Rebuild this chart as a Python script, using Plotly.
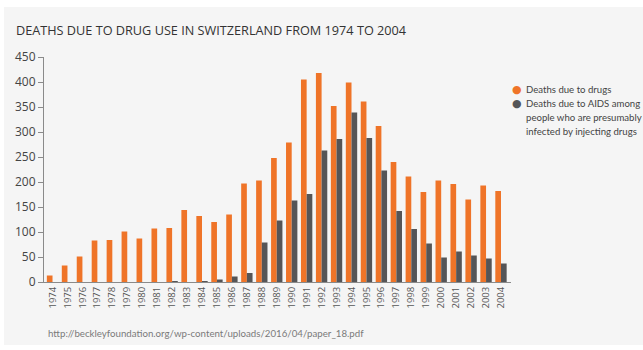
import plotly.graph_objects as go

# Yearly counts, Switzerland 1974-2004
years = [str(y) for y in range(1974, 2005)]
drug_deaths = [13, 33, 51, 83, 84, 101, 87, 107, 108, 144,
               132, 120, 135, 197, 203, 248, 279, 405, 418, 352,
               399, 361, 312, 240, 211, 180, 203, 196, 165, 193, 182]
aids_deaths = [0, 0, 0, 0, 0, 0, 0, 0, 2, 0,
               2, 5, 11, 18, 79, 123, 163, 176, 263, 286,
               339, 288, 223, 142, 106, 77, 49, 61, 53, 47, 37]
y_ticks = [0, 50, 100, 150, 200, 250, 300, 350, 400, 450]

ORANGE = "#EF7428"
GREY = "#555557"
BG = "#F5F5F5"
FONT = "Open Sans"
TEXT_FONT = "Lato"

W, H = 643, 350
L, R, T, B = 44, 132, 57, 68
PW, PH = W - L - R, H - T - B


def px(x):
    return (x - L) / PW


def py(y):
    return (H - B - y) / PH


fig = go.Figure()
fig.add_trace(go.Bar(x=years, y=drug_deaths, marker_color=ORANGE,
                     marker_line_width=0, name="Deaths due to drugs",
                     showlegend=False))
fig.add_trace(go.Bar(x=years, y=aids_deaths, marker_color=GREY,
                     marker_line_width=0, name="Deaths due to AIDS",
                     showlegend=False))

annotations = [
    dict(text="DEATHS DUE TO DRUG USE IN SWITZERLAND FROM 1974 TO 2004",
         x=px(14), y=py(30), xanchor="left", yanchor="middle",
         font=dict(family=FONT, size=12.7, color="#333333")),
    dict(text="http://beckleyfoundation.org/wp-content/uploads/2016/04/paper_18.pdf",
         x=px(46), y=py(333), xanchor="left", yanchor="middle",
         font=dict(family=TEXT_FONT, size=9.7, color="#7a7a7a")),
]

# Legend: coloured dots with text lines
legend_items = [
    (ORANGE, ["Deaths due to drugs"], 89),
    (GREY, ["Deaths due to AIDS among", "people who are presumably",
            "infected by injecting drugs"], 103),
]
for color, lines, y0 in legend_items:
    annotations.append(dict(text="●", x=px(517), y=py(y0), xanchor="center",
                            yanchor="middle",
                            font=dict(family="DejaVu Sans", size=11, color=color)))
    for i, line in enumerate(lines):
        annotations.append(dict(text=line, x=px(524), y=py(y0 + 14 * i),
                                xanchor="left", yanchor="middle",
                                font=dict(family=TEXT_FONT, size=9.6, color="#444444")))

for a in annotations:
    a.update(xref="paper", yref="paper", showarrow=False)

fig.update_layout(
    width=W, height=H,
    margin=dict(l=L, r=R, t=T, b=B, autoexpand=False),
    barmode="group", bargap=0.24, bargroupgap=0,
    paper_bgcolor="white", plot_bgcolor="rgba(0,0,0,0)",
    showlegend=False,
    annotations=annotations,
    shapes=[dict(type="rect", xref="paper", yref="paper", layer="below",
                 x0=px(4), x1=px(643), y0=py(345), y1=py(7),
                 fillcolor=BG, line_width=0)],
    xaxis=dict(type="category", range=[-0.57, 30.67], showgrid=False,
               showline=True, linecolor="#8a8a8a", linewidth=1,
               ticks="", tickangle=-90,
               tickfont=dict(family=FONT, size=9.5, color="#555555")),
    yaxis=dict(range=[0, 450], tickvals=y_ticks, showgrid=False,
               zeroline=False, showline=True, linecolor="#8a8a8a",
               linewidth=1, ticks="outside", ticklen=5, tickcolor="#8a8a8a",
               tickfont=dict(family=FONT, size=12, color="#444444")),
    font=dict(family=FONT),
)

fig.write_html("out.html")
